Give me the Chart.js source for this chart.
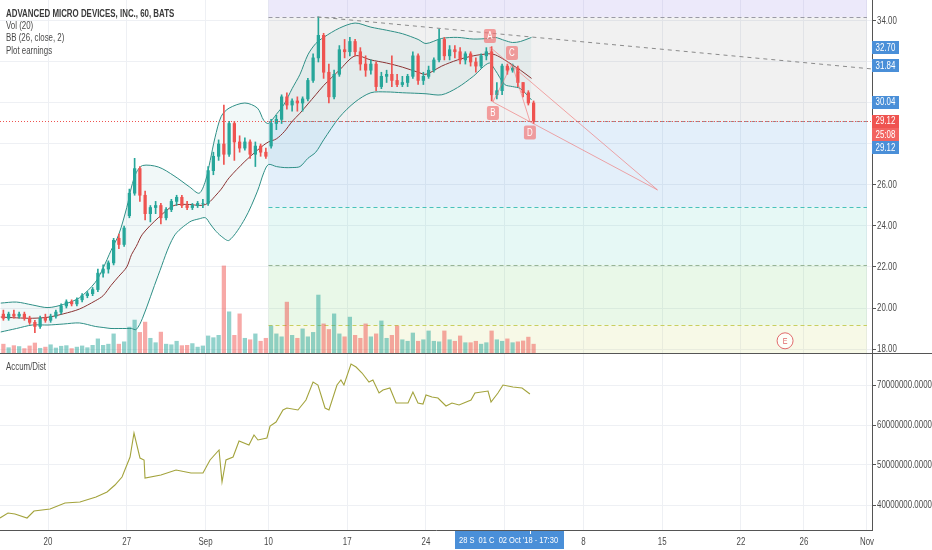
<!DOCTYPE html>
<html lang="en">
<head>
<meta charset="UTF-8">
<title>AMD 60 BATS - BB, Vol, Accum/Dist</title>
<script src="https://cdn.jsdelivr.net/npm/chart.js"></script>
<style>
  html, body { margin: 0; padding: 0; background: #fff; }
  #wrap { position: relative; width: 932px; height: 550px; overflow: hidden; }
  #priceChart { position: absolute; left: 0; top: 0; }
  #adChart { position: absolute; left: 0; top: 353px; }
</style>
</head>
<body>
<div id="wrap">
  <canvas id="priceChart" width="932" height="353"></canvas>
  <canvas id="adChart" width="932" height="197"></canvas>
</div>
<script>
// x is counted in trading sessions from Mon 20 Aug 2018 (weekends / holidays removed)
const dayTicks  = [0, 5, 10, 14, 19, 24, 29, 34, 39, 44, 48, 52];
const dayLabels = ['20', '27', 'Sep', '10', '17', '24', '1', '8', '15', '22', '26', 'Nov'];
const firstSession = -3;   // Wed 15 Aug
const candlesPerSession = 3;

// candles, 3 per session, 15 Aug .. 2 Oct
const candleOpen = [19.7,19.5,19.7, 19.6,19.7,19.5, 19.3,19.1,19.5, 19.4,19.6,19.8, 20.1,20.3,20.2, 20.4,20.6,20.7,
  20.9,21.7,21.9, 22.2,23.4,23.1, 24.5,25.6,26.8, 25.5,24.6,24.9, 25.0,24.4,24.8, 25.2,25.4,25.0, 24.9,25.0,25.1,
  25.1,26.7,27.4, 28.0,27.5,29.0, 28.1,27.8,28.1, 27.5,27.9,27.6, 27.9,29.0,29.2, 30.3,29.9,30.1, 30.0,30.2,31.1,
  32.2,33.3,31.5, 30.3,31.4,32.6, 32.5,33.0,32.5, 31.9,31.6,31.9, 30.8,31.3,31.4, 31.1,30.9,31.0, 31.3,32.3,31.1,
  31.3,31.6,32.1, 33.1,32.3,32.6, 32.5,32.1,32.4, 32.0,31.8,32.3, 32.5,30.4,30.6, 31.8,31.6,31.7, 31.0,30.5,30.0];
const candleHigh = [19.9,19.8,19.9, 19.8,19.8,19.6, 19.4,19.6,19.7, 19.7,19.9,20.2, 20.4,20.4,20.5, 20.7,20.8,21.0,
  21.9,22.1,22.3, 23.4,23.6,24.0, 25.8,27.3,26.9, 25.7,25.0,25.2, 25.1,24.9,25.3, 25.5,25.5,25.2, 25.1,25.2,25.3,
  26.9,27.6,28.2, 29.9,29.1,29.1, 28.4,28.3,28.2, 28.1,28.0,27.8, 29.2,29.4,30.4, 30.5,30.2,30.3, 30.3,31.2,32.4,
  34.2,33.4,31.9, 31.6,32.8,33.1, 33.2,33.1,32.7, 32.3,32.1,32.0, 31.5,31.6,32.3, 31.4,31.3,31.4, 32.5,32.4,31.5,
  31.8,32.2,33.6, 33.2,32.8,32.8, 32.7,32.5,32.5, 32.2,32.4,32.7, 32.75,31.0,31.9, 31.9,31.9,31.8, 31.0,30.6,30.1];
const candleLow = [19.4,19.4,19.5, 19.5,19.4,19.2, 18.8,19.0,19.3, 19.3,19.5,19.7, 20.0,20.1,20.1, 20.3,20.5,20.6,
  20.8,21.5,21.7, 22.1,22.9,23.0, 24.4,25.5,25.2, 24.3,24.2,24.6, 24.1,24.3,24.7, 25.0,24.9,24.8, 24.8,24.9,24.9,
  25.0,26.5,27.2, 27.0,27.4,27.2, 27.6,27.7,27.3, 26.9,27.4,27.3, 27.8,28.7,29.0, 29.7,29.6,29.6, 29.6,30.1,31.0,
  32.0,31.2,30.0, 30.2,31.3,32.2, 32.3,32.3,31.6, 31.3,31.4,30.6, 30.7,31.0,30.8, 30.8,30.8,30.8, 31.2,30.9,30.9,
  31.2,31.5,32.0, 32.1,32.1,32.2, 31.9,31.9,31.8, 31.5,31.7,32.1, 30.1,30.2,30.4, 31.4,31.5,30.8, 30.3,29.9,29.0];
const candleClose = [19.5,19.7,19.6, 19.7,19.5,19.3, 19.1,19.5,19.4, 19.6,19.8,20.1, 20.3,20.2,20.4, 20.6,20.7,20.9,
  21.7,21.9,22.2, 23.3,23.1,23.9, 25.6,26.8,25.5, 24.6,24.9,25.0, 24.4,24.8,25.2, 25.4,25.0,24.9, 25.0,25.1,25.1,
  26.7,27.4,28.0, 27.5,29.0,28.1, 27.8,28.1,27.5, 27.9,27.6,27.4, 29.0,29.2,30.3, 29.9,30.1,30.0, 30.2,31.1,32.2,
  33.3,31.5,30.3, 31.4,32.6,32.5, 33.0,32.5,31.9, 31.6,31.9,30.8, 31.3,31.4,31.1, 30.9,31.0,31.3, 32.3,31.1,31.3,
  31.6,32.1,33.1, 32.3,32.6,32.5, 32.1,32.4,32.0, 31.8,32.3,32.5, 30.4,30.6,31.8, 31.6,31.7,31.0, 30.5,30.0,29.12];
// volume, millions of shares
const candleVolume = [3.0,1.8,2.5, 2.2,1.5,2.4, 3.4,1.6,2.0, 2.8,1.7,2.3, 2.5,1.5,2.0, 2.4,1.8,2.6,
  4.8,2.6,3.0, 6.5,3.0,3.8, 8.8,11.2,7.0, 10.5,5.0,3.5, 7.1,3.0,2.8, 4.0,2.5,2.6, 3.2,2.0,2.4,
  5.8,5.2,6.0, 29.6,14.0,6.0, 13.3,5.0,4.5, 6.5,4.0,5.0, 9.2,6.5,5.5, 17.3,6.0,5.0, 8.2,5.5,7.0,
  19.7,9.9,8.0, 13.3,6.5,5.5, 12.2,6.0,5.0, 9.9,5.5,6.5, 10.9,5.0,6.0, 9.2,4.5,4.0, 6.8,4.0,4.5,
  7.5,4.0,3.8, 7.5,4.5,4.0, 5.8,3.5,3.5, 4.0,3.0,3.5, 7.5,4.5,4.0, 4.8,3.5,3.8, 4.1,5.4,3.0];

// Bollinger bands (26, close, 2)
const bbDays = [-3,-2,-1,0,1,2,3, 3.5,4,4.5,5, 5.3,5.6,6, 7,8,9, 9.6,10, 10.3,10.6,11, 11.5,12.5, 13.3,13.7,14,
  14.5,15,15.5,16, 16.5,17,17.5, 18.5,19.5,20.5,21.5,22.5,23.5, 24,25,26,27,28, 28.4,29,29.5,30,30.7];
const bbUpper = [20.24,20.29,20.15,20.02,20.18,20.5,21.25, 21.95,22.8,23.6,24.9, 25.9,26.6,26.95, 26.88,26.45,25.9,
  25.6,26.2, 27.2,28.3,29.35, 29.75,30.0, 29.75,29.15,29.0, 29.45,29.95,30.7,31.4, 32.35,32.9,33.2,
  33.65,33.9,33.7,33.55,33.38,33.1, 32.9,33.15,33.2,33.12,33.15, 33.2,33.05,32.95,33.0,33.2];
const bbBasis = [19.56,19.52,19.5,19.55,19.72,19.95,20.35, 20.6,21.1,21.55,22.0, 22.6,23.0,23.6, 24.4,25.0,25.05,
  25.0,25.05, 25.2,25.45,25.8, 26.35,27.15, 27.7,27.95,28.1, 28.25,28.6,29.1,29.5, 29.95,30.4,30.85,
  31.6,32.3,32.1,31.95,31.75,31.5, 31.4,31.8,32.1,32.3,32.4, 32.35,32.1,31.85,31.6,31.2];
const bbLower = [18.83,19.0,19.17,19.17,19.22,19.27,19.1, 19.05,19.0,19.0,19.0, 19.0,18.95,19.5, 21.6,23.5,24.2,
  24.35,24.4, 24.1,23.8,23.5, 23.3,24.35, 25.7,26.6,27.0, 26.9,26.85,26.85,26.9, 27.3,27.6,28.2,
  29.3,30.05,30.5,30.54,30.5,30.47, 30.45,30.4,30.75,31.3,31.95, 31.6,30.9,30.8,30.7,30.15];

// Accumulation / Distribution, millions
const adDays = [-3.05,-2.54,-2.1,-1.33,-0.89, 0.13,1.08,2.03,3.05,3.75, 4.25,4.7,5.21,5.46,5.84, 6.1,6.16,7.17,8.13,9.08,
  9.84,10.29,10.86,11.05,11.3, 11.75,12.13,12.76,13.08,13.33, 13.9,14.1,14.48,14.92,15.17, 15.87,16.38,16.83,17.14,17.59,
  17.84,18.35,18.6,18.79,19.24, 19.56,19.94,20.38,20.63,21.02, 21.27,21.71,22.1,22.86,23.17, 23.49,23.81,24.0,24.38,24.76,
  25.27,25.65,26.1,26.86,27.11, 27.94,28.13,28.57,28.89,29.52, 30.1,30.6];
const adMillions = [36.75,38.0,37.75,36.75,38.5, 39.0,40.5,40.75,42.0,43.25, 45.0,47.0,52.0,58.0,51.75, 51.25,46.75,47.5,48.75,48.0,
  48.0,51.25,53.75,45.75,51.25, 52.0,56.0,55.0,57.5,56.25, 56.75,59.75,60.75,63.75,64.25, 63.75,66.25,70.75,70.0,64.25,
  63.75,70.0,71.25,70.0,75.25, 74.5,73.0,70.75,71.25,68.0, 68.75,69.25,65.5,65.5,68.25, 65.5,65.25,67.5,67.0,66.75,
  64.75,65.5,65.0,66.25,68.0, 68.5,65.75,68.0,70.0,69.5, 69.25,67.75];

const priceTicks = [18, 20, 22, 24, 26, 28, 30, 32, 34];
const hiddenPriceTicks = [28, 30, 32];   // covered by the value badges
const adTicks = [40, 50, 60, 70];

// fib retracement drawing
const fibFromDay = 14, fibToDay = 52;
const fibLevels = [34.2, 29.12, 24.93, 22.1, 19.17];
const fibZoneColors = ['rgba(149,132,230,0.18)', 'rgba(120,120,120,0.10)', 'rgba(66,150,220,0.15)',
  'rgba(60,200,180,0.13)', 'rgba(110,210,100,0.15)', 'rgba(205,220,110,0.17)'];
const fibLineColors = ['#9a9aa6', '#8e8e96', '#49c1bb', '#97b497', '#c8cf60'];

// other drawings
const trendDays = [17.1, 52.32], trendPrices = [34.2, 31.66];
const patternNames = ['A', 'B', 'C', 'D'];
const patternDays = [28.06, 28.25, 29.46, 30.6];
const patternPrices = [32.73, 30.05, 31.9, 29.1];
const targetDay = 38.7, targetPrice = 25.76;
const earningsDay = 46.8, earningsPrice = 18.4;
const lastPrice = 29.12;

const badgeText  = ['32.70', '31.84', '30.04', '29.12', '25:08', '29.12'];
const badgeLevel = [32.70, 31.84, 30.04, 29.12, 28.44, 27.82];
const badgeColor = ['#4a8fd8', '#4a8fd8', '#4a8fd8', '#ef5350', '#f26461', '#4a8fd8'];

const legendLines = ['ADVANCED MICRO DEVICES, INC., 60, BATS', 'Vol (20)', 'BB (26, close, 2)', 'Plot earnings'];
const crosshairDay = 30.58;
const crosshairText = "28 S  01 C  02 Oct '18 - 17:30";

const FONT = '"Liberation Sans", Arial, sans-serif';
const SQUEEZE = 0.79;   // the screenshot text is narrow
const UP = '#26a69a', DOWN = '#ef5350';
const GRID = '#eef0f4', AXIS = '#555', TEXT = '#4a4a4a';
const X_MIN = -3.048, X_MAX = 52.32;

// build datasets
const candleDay = candleOpen.map((o, i) => firstSession + (i + 0.5) / candlesPerSession);
const candleColor = candleOpen.map((o, i) => candleClose[i] >= o ? UP : DOWN);
const volColor = candleOpen.map((o, i) => candleClose[i] >= o ? 'rgba(38,166,154,0.5)' : 'rgba(239,83,80,0.5)');

function fixWidth(w) {
  return s => { s.width = w; s.paddingTop = 0; s.paddingBottom = 0; };
}
function fixHeight(h) {
  return s => { s.height = h; s.paddingLeft = 0; s.paddingRight = 0; };
}
function setTicks(values) {
  return s => { s.ticks = values.map(v => ({ value: v })); };
}

// narrow text, drawn with a horizontal squeeze
function text(ctx, str, x, y, align) {
  ctx.save();
  ctx.translate(x, y);
  ctx.scale(SQUEEZE, 1);
  ctx.textAlign = align || 'left';
  ctx.fillText(str, 0, 0);
  ctx.restore();
}

function badge(ctx, x, y, w, str, color) {
  ctx.fillStyle = color;
  ctx.fillRect(x, Math.round(y - 6.5), w, 13);
  ctx.fillStyle = '#fff';
  ctx.textBaseline = 'middle';
  text(ctx, str, x + w / 2, y + 0.5, 'center');
}

function yLabels(chart, fmt) {
  const { ctx, chartArea: a, scales: { y } } = chart;
  ctx.save();
  ctx.font = '10px ' + FONT;
  ctx.fillStyle = TEXT;
  ctx.textBaseline = 'middle';
  y.ticks.forEach(t => {
    const s = fmt(t.value);
    if (s) text(ctx, s, a.right + 5, y.getPixelForValue(t.value) + 0.5, 'left');
  });
  ctx.restore();
}

const priceOverlay = {
  id: 'priceOverlay',
  beforeDatasetsDraw(chart) {
    const { ctx, chartArea: a, scales: { x, y } } = chart;
    ctx.save();
    ctx.beginPath();
    ctx.rect(a.left, a.top, a.right - a.left, a.bottom - a.top);
    ctx.clip();
    const x0 = x.getPixelForValue(fibFromDay), x1 = x.getPixelForValue(fibToDay);
    const bounds = [y.max, ...fibLevels, y.min];
    fibZoneColors.forEach((c, i) => {
      const t = y.getPixelForValue(bounds[i]), b = y.getPixelForValue(bounds[i + 1]);
      ctx.fillStyle = c;
      ctx.fillRect(x0, t, x1 - x0, b - t);
    });
    ctx.lineWidth = 1;
    ctx.setLineDash([4, 3]);
    fibLevels.forEach((lv, i) => {
      const py = Math.round(y.getPixelForValue(lv)) + 0.5;
      ctx.strokeStyle = fibLineColors[i];
      ctx.beginPath(); ctx.moveTo(x0, py); ctx.lineTo(x1, py); ctx.stroke();
    });
    ctx.restore();
  },
  afterDatasetsDraw(chart) {
    const { ctx, chartArea: a, scales: { x, y } } = chart;
    ctx.save();
    ctx.beginPath();
    ctx.rect(a.left, a.top, a.right - a.left, a.bottom - a.top);
    ctx.clip();
    // last price
    const lp = Math.round(y.getPixelForValue(lastPrice)) + 0.5;
    ctx.strokeStyle = DOWN; ctx.lineWidth = 1; ctx.setLineDash([1, 2]);
    ctx.beginPath(); ctx.moveTo(a.left, lp); ctx.lineTo(a.right, lp); ctx.stroke();
    // trend line
    ctx.strokeStyle = '#8a8a8a'; ctx.setLineDash([4, 4]);
    ctx.beginPath();
    ctx.moveTo(x.getPixelForValue(trendDays[0]), y.getPixelForValue(trendPrices[0]));
    ctx.lineTo(x.getPixelForValue(trendDays[1]), y.getPixelForValue(trendPrices[1]));
    ctx.stroke();
    // ABCD pattern
    const px = patternDays.map(d => x.getPixelForValue(d));
    const py = patternPrices.map(p => y.getPixelForValue(p));
    const tx = x.getPixelForValue(targetDay), ty = y.getPixelForValue(targetPrice);
    ctx.setLineDash([]);
    ctx.strokeStyle = 'rgba(240,110,110,0.6)';
    ctx.beginPath();
    ctx.moveTo(px[0], py[0]);
    for (let i = 1; i < 4; i++) ctx.lineTo(px[i], py[i]);
    ctx.moveTo(px[0], py[0]); ctx.lineTo(tx, ty);
    ctx.moveTo(px[1], py[1]); ctx.lineTo(tx, ty);
    ctx.stroke();
    ctx.font = '10px ' + FONT;
    ctx.textBaseline = 'middle';
    patternNames.forEach((n, i) => {
      const above = i % 2 === 0;
      const cy = py[i] + (above ? -11 : 11);
      ctx.fillStyle = 'rgba(242,120,120,0.7)';
      ctx.beginPath();
      ctx.roundRect(px[i] - 6, cy - 7, 12, 14, 2);
      ctx.fill();
      ctx.fillStyle = '#fff';
      text(ctx, n, px[i], cy + 0.5, 'center');
    });
    // earnings marker
    const ex = x.getPixelForValue(earningsDay), ey = y.getPixelForValue(earningsPrice);
    ctx.beginPath(); ctx.arc(ex, ey, 8, 0, Math.PI * 2);
    ctx.fillStyle = 'rgba(255,255,255,0.7)'; ctx.fill();
    ctx.strokeStyle = '#e06a6a'; ctx.stroke();
    ctx.fillStyle = '#e06a6a';
    ctx.font = '9px ' + FONT;
    text(ctx, 'E', ex, ey + 0.5, 'center');
    ctx.restore();
  },
  afterDraw(chart) {
    const { ctx, chartArea: a, scales: { y } } = chart;
    yLabels(chart, v => hiddenPriceTicks.includes(v) ? '' : v.toFixed(2));
    ctx.save();
    ctx.font = '10px ' + FONT;
    badgeText.forEach((t, i) => {
      badge(ctx, a.right, y.getPixelForValue(badgeLevel[i]), 27, t, badgeColor[i]);
    });
    ctx.textBaseline = 'alphabetic';
    legendLines.forEach((t, i) => {
      ctx.font = (i === 0 ? 'bold ' : '') + '10px ' + FONT;
      ctx.fillStyle = i === 0 ? '#3a3a3a' : TEXT;
      text(ctx, t, 6, 17 + i * 12.2, 'left');
    });
    ctx.restore();
  }
};

const adOverlay = {
  id: 'adOverlay',
  afterDraw(chart) {
    const { ctx, chartArea: a, scales: { x } } = chart;
    yLabels(chart, v => (v * 1e6).toFixed(4));
    ctx.save();
    ctx.fillStyle = AXIS;
    ctx.fillRect(0, 0, chart.width, 1);
    ctx.font = '10px ' + FONT;
    ctx.fillStyle = TEXT;
    ctx.textBaseline = 'alphabetic';
    text(ctx, 'Accum/Dist', 6, 17, 'left');
    // time axis labels
    ctx.textBaseline = 'middle';
    x.ticks.forEach(t => {
      text(ctx, dayLabels[dayTicks.indexOf(t.value)], x.getPixelForValue(t.value), a.bottom + 12, 'center');
    });
    const cx = Math.round(x.getPixelForValue(crosshairDay));
    ctx.fillStyle = '#4a8fd8';
    ctx.fillRect(cx - 75, a.bottom + 1, 109, 18);
    ctx.fillStyle = '#fff';
    ctx.fillRect(cx, a.bottom + 1, 1, 3);
    ctx.font = '9.5px ' + FONT;
    text(ctx, crosshairText, cx - 71, a.bottom + 10.5, 'left');
    ctx.restore();
  }
};

new Chart(document.getElementById('priceChart'), {
  type: 'bar',
  data: {
    datasets: [
      { type: 'bar', data: candleOpen.map((o, i) => ({ x: candleDay[i], y: [o, candleClose[i]] })),
        backgroundColor: candleColor, barThickness: 2.6, grouped: false, order: 0 },
      { type: 'bar', data: candleLow.map((l, i) => ({ x: candleDay[i], y: [l, candleHigh[i]] })),
        backgroundColor: candleColor, barThickness: 1, grouped: false, order: 1 },
      { type: 'line', data: bbDays.map((d, i) => ({ x: d, y: bbUpper[i] })),
        borderColor: '#2f8f86', borderWidth: 1, pointRadius: 0, tension: 0.3,
        fill: 4, backgroundColor: 'rgba(25,135,135,0.06)', order: 3 },
      { type: 'line', data: bbDays.map((d, i) => ({ x: d, y: bbBasis[i] })),
        borderColor: '#8b3333', borderWidth: 1, pointRadius: 0, tension: 0.3, order: 2 },
      { type: 'line', data: bbDays.map((d, i) => ({ x: d, y: bbLower[i] })),
        borderColor: '#2f8f86', borderWidth: 1, pointRadius: 0, tension: 0.3, order: 4 },
      { type: 'bar', data: candleVolume.map((v, i) => ({ x: candleDay[i], y: v })), yAxisID: 'vol',
        backgroundColor: volColor, barThickness: 3.6, grouped: false, order: 5 }
    ]
  },
  options: {
    responsive: false, animation: false, events: [],
    layout: { padding: 0 },
    plugins: { legend: { display: false }, tooltip: { enabled: false } },
    scales: {
      x: { type: 'linear', min: X_MIN, max: X_MAX, offset: false,
        afterBuildTicks: setTicks(dayTicks), afterFit: fixHeight(0),
        ticks: { display: false }, grid: { color: GRID, drawTicks: false, offset: false }, border: { display: false } },
      y: { position: 'right', min: 17.805, max: 35.024,
        afterBuildTicks: setTicks(priceTicks), afterFit: fixWidth(60),
        ticks: { display: false },
        grid: { color: GRID, tickColor: AXIS, tickLength: 4 }, border: { color: AXIS } },
      vol: { type: 'linear', display: false, min: 0, max: 120 }
    }
  },
  plugins: [priceOverlay]
});

new Chart(document.getElementById('adChart'), {
  type: 'line',
  data: {
    datasets: [
      { data: adDays.map((d, i) => ({ x: d, y: adMillions[i] })),
        borderColor: '#a3a33c', borderWidth: 1.1, pointRadius: 0, tension: 0 }
    ]
  },
  options: {
    responsive: false, animation: false, events: [],
    layout: { padding: 0 },
    plugins: { legend: { display: false }, tooltip: { enabled: false } },
    scales: {
      x: { type: 'linear', min: X_MIN, max: X_MAX, offset: false,
        afterBuildTicks: setTicks(dayTicks), afterFit: fixHeight(20),
        ticks: { display: false },
        grid: { color: GRID, drawTicks: false }, border: { color: AXIS } },
      y: { position: 'right', min: 33.75, max: 78,
        afterBuildTicks: setTicks(adTicks), afterFit: fixWidth(60),
        ticks: { display: false },
        grid: { color: GRID, tickColor: AXIS, tickLength: 4 }, border: { color: AXIS } }
    }
  },
  plugins: [adOverlay]
});
</script>
</body>
</html>
